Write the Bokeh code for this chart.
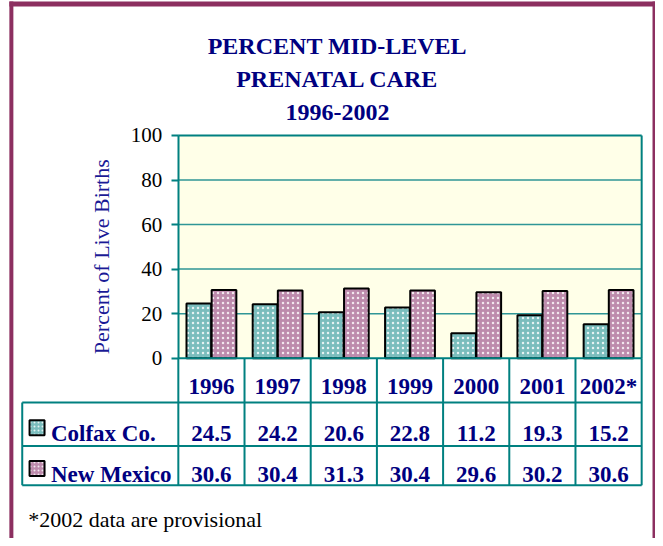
import math
from bokeh.plotting import figure
from bokeh.models import Range1d, FixedTicker
from bokeh.core.properties import value
from bokeh.embed import file_html
from bokeh.resources import INLINE

# ---------------- data ----------------
years = ["1996", "1997", "1998", "1999", "2000", "2001", "2002*"]
colfax = [24.5, 24.2, 20.6, 22.8, 11.2, 19.3, 15.2]
new_mexico = [30.6, 30.4, 31.3, 30.4, 29.6, 30.2, 30.6]
series_names = ["Colfax Co.", "New Mexico"]
y_ticks = [0, 20, 40, 60, 80, 100]
title_lines = ["PERCENT MID-LEVEL", "PRENATAL CARE", "1996-2002"]
y_label = "Percent of Live Births"
footnote = "*2002 data are provisional"

# ---------------- styling / layout ----------------
TEAL = "#008080"
GRID = "#2f9696"
NAVY = "#000080"
LABEL_BLUE = "#1a1a96"
MAROON = "#8c2f60"
PLOT_BG = "#ffffe8"
C_COLFAX = "#7abdbd"
C_NM = "#bd8bac"
SERIF = value("Liberation Serif")

W, H = 655, 538          # canvas
REF_W, REF_H = 663, 546  # layout design grid
PX_X = 67.0      # design pixels per category
PX_Y = 2.26      # design pixels per percent
X0, Y0 = 180.0, 363.0   # design position of (0, 0)


def dx(px):
    return (px - X0) / PX_X


def dy(py):
    return (Y0 - py) / PX_Y


n = len(years)

p = figure(width=W, height=H, output_backend="svg", toolbar_location=None,
           x_range=Range1d(dx(0), dx(REF_W)),
           y_range=Range1d(dy(REF_H), dy(0)),
           min_border_left=0, min_border_right=0, min_border_top=0, min_border_bottom=0)
p.border_fill_color = "white"
p.background_fill_color = "white"
p.outline_line_color = None
p.xaxis.visible = False
p.xgrid.visible = False
p.ygrid.visible = False

# outer maroon border (left, top, right)
p.segment(x0=[dx(11), dx(9), dx(662)], x1=[dx(11), dx(664), dx(662)],
          y0=[dy(REF_H + 5), dy(3.5), dy(1)], y1=[dy(1), dy(3.5), dy(REF_H + 5)],
          line_color=MAROON, line_width=[4, 5, 4])

# plot area
p.quad(left=0, right=n, bottom=y_ticks[0], top=y_ticks[-1], fill_color=PLOT_BG, line_color=None)
p.segment(x0=[0] * (len(y_ticks) - 2), x1=[n] * (len(y_ticks) - 2),
          y0=y_ticks[1:-1], y1=y_ticks[1:-1], line_color=GRID, line_width=1.5)
p.segment(x0=[0, n], x1=[n, n], y0=[y_ticks[-1], 0], y1=[y_ticks[-1], y_ticks[-1]],
          line_color=TEAL, line_width=2)

# bars
off = 0.19
bw = 0.373
common = dict(width=bw, line_color="black", line_width=2, hatch_pattern="dot",
              hatch_color="white", hatch_scale=5, hatch_weight=1.0, hatch_alpha=0.8)
p.vbar(x=[i + 0.5 - off for i in range(n)], top=colfax, bottom=0, fill_color=C_COLFAX, **common)
p.vbar(x=[i + 0.5 + off for i in range(n)], top=new_mexico, bottom=0, fill_color=C_NM, **common)

# y axis
ax = p.yaxis[0]
ax.fixed_location = 0
ax.bounds = (y_ticks[0], y_ticks[-1])
ax.ticker = FixedTicker(ticks=y_ticks)
ax.axis_line_color = TEAL
ax.axis_line_width = 2
ax.major_tick_line_color = TEAL
ax.major_tick_line_width = 2
ax.major_tick_out = 7
ax.major_tick_in = 0
ax.minor_tick_line_color = None
ax.major_label_text_font = "Liberation Serif"
ax.major_label_text_font_size = "21px"
ax.major_label_text_color = "black"
ax.major_label_standoff = 9

# table grid
r1, r2, r3 = dy(408), dy(452), dy(492)
left_edge = dx(22)
hx0 = [0, left_edge, left_edge, left_edge]
hx1 = [n, n, n, n]
hy = [0, r1, r2, r3]
p.segment(x0=hx0, x1=hx1, y0=hy, y1=hy, line_color=TEAL, line_width=2)
vx = list(range(n + 1)) + [left_edge]
vy0 = [0] * (n + 1) + [r1]
vy1 = [r3] * (n + 2)
p.segment(x0=vx, x1=vx, y0=vy0, y1=vy1, line_color=TEAL, line_width=2)

tbl = dict(text_font=SERIF, text_font_size="23px", text_font_style="bold",
           text_color=NAVY, text_baseline="alphabetic")
cx = [i + 0.5 for i in range(n)]
p.text(x=cx, y=[dy(392)] * n, text=years, text_align="center", **tbl)
p.text(x=cx, y=[dy(439)] * n, text=[f"{v:.1f}" for v in colfax], text_align="center", **tbl)
p.text(x=cx, y=[dy(481)] * n, text=[f"{v:.1f}" for v in new_mexico], text_align="center", **tbl)
p.text(x=[dx(51)] * 2, y=[dy(439), dy(481)], text=series_names, text_align="left", **tbl)

# legend swatches
sw = dict(width=15, height=15, width_units="screen", height_units="screen",
          line_color="black", line_width=2, hatch_pattern="dot", hatch_color="white",
          hatch_scale=4, hatch_weight=1.0, hatch_alpha=0.8)
p.rect(x=[dx(37)], y=[dy(433.5)], fill_color=C_COLFAX, **sw)
p.rect(x=[dx(37)], y=[dy(475)], fill_color=C_NM, **sw)

# title
p.text(x=[dx(341)] * 3, y=[dy(46), dy(80), dy(114)], text=title_lines,
       text_font=SERIF, text_font_size="24px", text_font_style="bold",
       text_color=NAVY, text_align="center", text_baseline="alphabetic")

# y label
p.text(x=[dx(102)], y=[dy(260)], text=[y_label], angle=math.pi / 2,
       text_font=SERIF, text_font_size="22px", text_color=LABEL_BLUE,
       text_align="center", text_baseline="middle")

# footnote
p.text(x=[dx(28)], y=[dy(527)], text=[footnote], text_font=SERIF,
       text_font_size="22px", text_color="black", text_align="left",
       text_baseline="alphabetic")

open("out.html", "w").write(file_html(p, INLINE))
